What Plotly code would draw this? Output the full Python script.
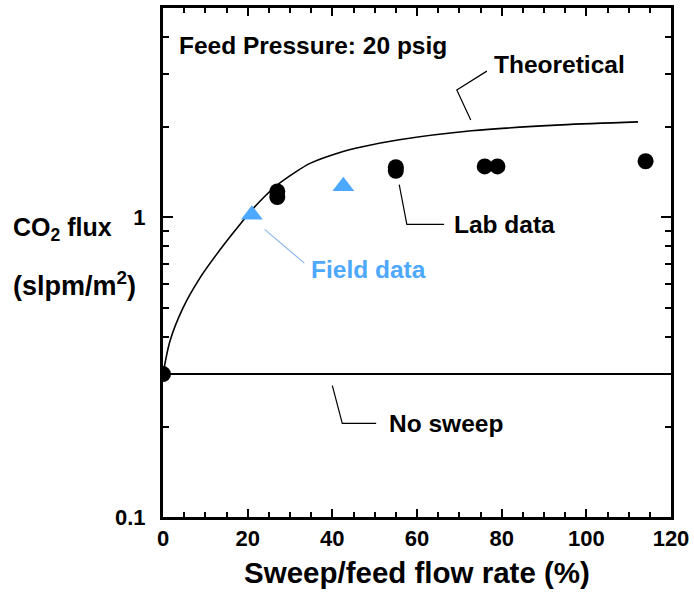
import math
import plotly.graph_objects as go

# Theoretical CO2 flux vs. sweep/feed ratio (feed at 20 psig)
theory_x = [0, 1.65, 4.7, 8.7, 12.7, 16.5, 20.5, 24.0, 26.8, 31.1, 34.6, 41.6, 47.1, 55.8, 72.9, 94.1, 112.2]
theory_y = [0.30, 0.387, 0.498, 0.627, 0.754, 0.885, 1.039, 1.174, 1.277, 1.411, 1.512,
            1.644, 1.721, 1.816, 1.946, 2.037, 2.084]

# No-sweep reference level
nosweep_x = [0, 120]
nosweep_y = [0.30, 0.30]

# Laboratory measurements
lab_x = [0, 27, 27, 55, 55, 76, 79, 114]
lab_y = [0.30, 1.22, 1.17, 1.47, 1.43, 1.48, 1.48, 1.54]

# Field measurements
field_x = [21, 42.6]
field_y = [1.02, 1.27]

x_ticks = [0, 20, 40, 60, 80, 100, 120]
y_ticks = [0.1, 1]
y_tick_text = ["0.1", "1"]
y_minor = [0.2, 0.3, 0.4, 0.5, 0.6, 0.7, 0.8, 0.9, 2, 3, 4, 5]

BLUE = "#4DA8FF"
FONT = "Liberation Sans"

fig = go.Figure()

fig.add_trace(go.Scatter(x=nosweep_x, y=nosweep_y, mode="lines",
                         line=dict(color="black", width=2), hoverinfo="skip"))
fig.add_trace(go.Scatter(x=theory_x, y=theory_y, mode="lines",
                         line=dict(color="black", width=1.6, shape="spline", smoothing=0.8),
                         hoverinfo="skip"))
fig.add_trace(go.Scatter(x=lab_x, y=lab_y, mode="markers",
                         marker=dict(symbol="circle", size=16, color="black")))
fig.add_trace(go.Scatter(x=field_x, y=field_y, mode="markers",
                         marker=dict(symbol="triangle-up", size=19, color=BLUE)))

# Leader lines from labels to their curves/points
leaders = [
    ([72.7, 69.4, 76.5], [2.116, 2.662, 3.078], "black"),
    ([55.8, 57.6, 66.4], [1.287, 0.948, 0.948], "black"),
    ([40.0, 42.35, 50.35], [0.2746, 0.2053, 0.2053], "black"),
    ([24.0, 33.4], [0.912, 0.7036], "#8AB8EE"),
]
for lx, ly, c in leaders:
    fig.add_trace(go.Scatter(x=lx, y=ly, mode="lines",
                             line=dict(color=c, width=1.2), hoverinfo="skip"))

labels = [
    (3.3, 3.756, "Feed Pressure: 20 psig", "black"),
    (77.6, 3.248, "Theoretical", "black"),
    (68.2, 0.948, "Lab data", "black"),
    (52.9, 0.2053, "No sweep", "black"),
    (34.6, 0.672, "Field data", BLUE),
]
for ax_, ay_, txt, c in labels:
    fig.add_annotation(x=ax_, y=math.log10(ay_), text=txt, showarrow=False,
                       xanchor="left", yanchor="middle",
                       font=dict(family=FONT, size=24.5, color=c, weight="bold"))

# Y-axis title written horizontally beside the axis
fig.add_annotation(xref="paper", yref="paper", x=-0.3, y=0.565,
                   text="CO<sub>2</sub> flux", showarrow=False, xanchor="left",
                   yanchor="middle", font=dict(family=FONT, size=25, color="black", weight="bold"))
fig.add_annotation(xref="paper", yref="paper", x=-0.3, y=0.458,
                   text="(slpm/m<sup>2</sup>)", showarrow=False, xanchor="left",
                   yanchor="middle", font=dict(family=FONT, size=27, color="black", weight="bold"))

fig.update_layout(
    width=694, height=592,
    margin=dict(l=163, r=22, t=5, b=75),
    paper_bgcolor="white", plot_bgcolor="white",
    showlegend=False,
    font=dict(family=FONT, color="black"),
)

fig.update_xaxes(
    range=[0, 120], tickvals=x_ticks, ticks="inside", ticklen=8, tickwidth=2,
    tickcolor="black", showline=True, linecolor="black", linewidth=3, mirror="ticks",
    showgrid=False, zeroline=False,
    tickfont=dict(family=FONT, size=22, color="black", weight="bold"),
    minor=dict(dtick=5, ticks="inside", ticklen=5, tickwidth=1.5, tickcolor="black", showgrid=False),
    title=dict(text="Sweep/feed flow rate (%)", standoff=12,
               font=dict(family=FONT, size=29.5, color="black", weight="bold")),
)
fig.update_yaxes(
    type="log", range=[-1, math.log10(5)], tickvals=y_ticks, ticktext=y_tick_text,
    ticks="inside", ticklen=10, tickwidth=2, tickcolor="black",
    showline=True, linecolor="black", linewidth=3, mirror="ticks",
    showgrid=False, zeroline=False, ticklabelstandoff=10,
    tickfont=dict(family=FONT, size=22, color="black", weight="bold"),
    minor=dict(tickvals=y_minor, ticks="inside", ticklen=6, tickwidth=1.5,
               tickcolor="black", showgrid=False),
)

fig.write_html("out.html")
